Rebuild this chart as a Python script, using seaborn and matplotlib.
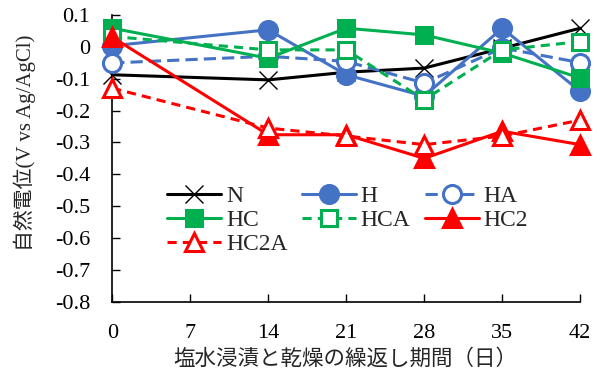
import matplotlib
matplotlib.use("Agg")
import matplotlib.pyplot as plt
import seaborn as sns
import pandas as pd

sns.set_theme(style="white")
plt.rcParams['font.family'] = ['Liberation Serif', 'Noto Sans CJK JP']
plt.rcParams['axes.unicode_minus'] = False

days = [0, 14, 21, 28, 35, 42]
N = [-0.088, -0.104, -0.080, -0.067, -0.005, 0.058]
H = [0.003, 0.053, -0.088, -0.155, 0.058, -0.140]
HA = [-0.051, -0.030, -0.046, -0.114, -0.004, -0.050]
HC = [0.058, -0.036, 0.058, 0.037, -0.020, -0.098]
HCA = [0.032, -0.010, -0.010, -0.166, -0.010, 0.016]
HC2 = [0.030, -0.276, -0.276, -0.350, -0.265, -0.307]
HC2A = [-0.130, -0.255, -0.280, -0.307, -0.280, -0.230]

yticks = [0.1, 0, -0.1, -0.2, -0.3, -0.4, -0.5, -0.6, -0.7, -0.8]
ytick_labels = ["0.1", "0", "-0.1", "-0.2", "-0.3", "-0.4", "-0.5", "-0.6", "-0.7", "-0.8"]
xticks = [0, 7, 14, 21, 28, 35, 42]

blue = "#4472C4"
green = "#00B050"
red = "#FF0000"

series = [
    ("N", N, "black", "x", "black", "-"),
    ("H", H, blue, "o", blue, "-"),
    ("HA", HA, blue, "o", "white", (0, (4, 2))),
    ("HC", HC, green, "s", green, "-"),
    ("HCA", HCA, green, "s", "white", (0, (3, 2))),
    ("HC2", HC2, red, "^", red, "-"),
    ("HC2A", HC2A, red, "^", "white", (0, (3, 2))),
]

fig = plt.figure(figsize=(6, 3.7), dpi=100)
ax = fig.add_axes([0.187, 0.184, 0.780, 0.776])

handles = {}
for name, vals, color, marker, face, ls in series:
    df = pd.DataFrame({"day": days, "v": vals})
    if marker == "x":
        ms, mew = 13, 1.0
    elif marker == "s":
        ms, mew = 12, 2.2
    else:
        ms, mew = 13, 2.2
    sns.lineplot(data=df, x="day", y="v", ax=ax, color=color, linestyle=ls,
                 linewidth=2.2, marker=marker, markersize=ms,
                 markerfacecolor=face, markeredgecolor=color,
                 markeredgewidth=mew, clip_on=False, label=name, zorder=3)
    handles[name] = ax.lines[-1]

ax.set_xlim(0, 42)
ax.set_ylim(-0.8, 0.1)
ax.set_xticks(xticks)
ax.set_xticklabels([str(t) for t in xticks])
ax.set_yticks(yticks)
ax.set_yticklabels(ytick_labels)
ax.tick_params(axis="both", direction="in", length=6, width=1, colors="black",
               labelsize=16)
ax.tick_params(axis="x", pad=16, bottom=True)
ax.tick_params(axis="y", pad=16, left=True)
for side in ["top", "right"]:
    ax.spines[side].set_visible(False)
for side in ["left", "bottom"]:
    ax.spines[side].set_color("black")
    ax.spines[side].set_linewidth(1.2)

ax.set_xlabel("塩水浸漬と乾燥の繰返し期間（日）", fontsize=15.5,
              family=['Noto Sans CJK JP'])
ax.set_ylabel("自然電位(V vs Ag/AgCl)", fontsize=15)
ax.xaxis.set_label_coords(0.497, -0.16)
ax.yaxis.set_label_coords(-0.163, 0.555)

order = ["N", "HC", "HC2A", "H", "HCA", "HA", "HC2"]
ax.legend([handles[k] for k in order], order, ncol=3, loc="upper left",
          bbox_to_anchor=(0.117, 0.405), frameon=False, fontsize=17,
          handlelength=2.3, handletextpad=0.2, columnspacing=0.6,
          labelspacing=0.1, borderpad=0, borderaxespad=0)

fig.savefig("out.png", dpi=100)
